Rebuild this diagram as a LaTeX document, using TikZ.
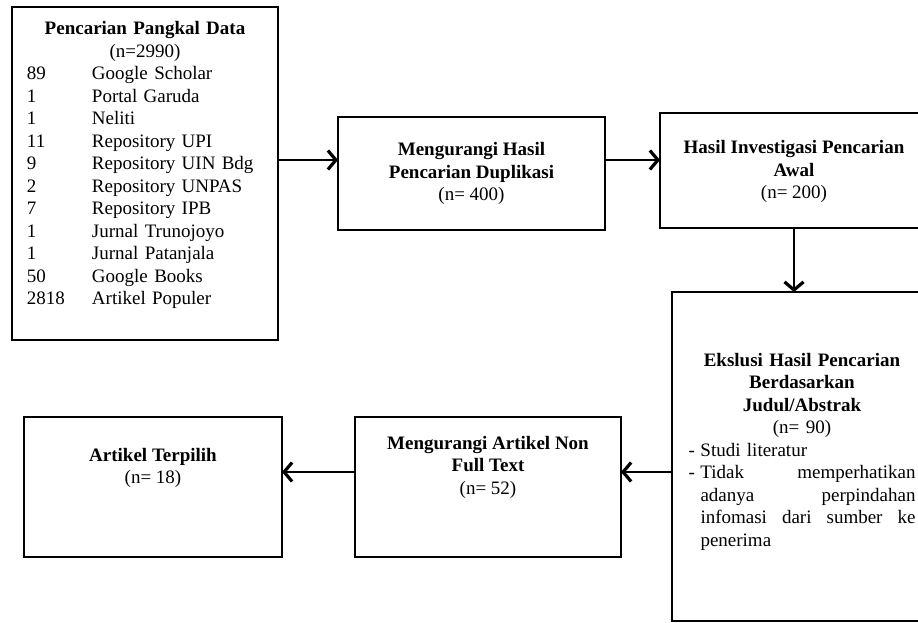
\documentclass[tikz,border=0pt]{standalone}
\usepackage{fontspec}
\setmainfont{Liberation Serif}
\usetikzlibrary{arrows.meta,positioning}
\tikzset{
  kotak/.style={rectangle, draw=black, line width=1.8pt, inner sep=0pt, outer sep=0pt},
  isi/.style={inner sep=0pt, outer sep=0pt, align=center, font=\fontsize{19}{22.5}\selectfont},
  panah/.style={-{Straight Barb[length=8pt,width=19pt,line width=3.2pt]}, line width=2.6pt},
}
\newcommand{\barisrata}[1]{\leavevmode\hbox to 227pt{#1}}

\begin{document}
\begin{tikzpicture}[x=1pt,y=-1pt]
        \useasboundingbox (0,0) rectangle (918,623);
        % kotak
        \node[kotak, minimum width=266pt, minimum height=333pt] (cari) at (145,173.5) {};
        \node[kotak, minimum width=267pt, minimum height=113pt] (dup) at (471.5,173.5) {};
        \node[kotak, minimum width=268pt, minimum height=115pt] (awal) at (794,170.5) {};
        \node[kotak, minimum width=260pt, minimum height=329pt] (eks) at (802,456.5) {};
        \node[kotak, minimum width=266pt, minimum height=140pt] (full) at (488,487) {};
        \node[kotak, minimum width=258pt, minimum height=140pt] (pilih) at (153,487) {};
        % teks
        \node[isi, text width=236pt, below=12.25pt of cari.north] (cariT)
          {\strut\textbf{Pencarian Pangkal Data}\\(n=2990)\\
           \begin{tabular}[t]{@{}p{65pt}@{}p{171pt}@{}}
             89 & Google Scholar\\
             1 & Portal Garuda\\
             1 & Neliti\\
             11 & Repository UPI\\
             9 & Repository UIN Bdg\\
             2 & Repository UNPAS\\
             7 & Repository IPB\\
             1 & Jurnal Trunojoyo\\
             1 & Jurnal Patanjala\\
             50 & Google Books\\
             2818 & Artikel Populer
           \end{tabular}};
        \node[isi, below=22.75pt of dup.north] (dupT)
          {\strut\textbf{Mengurangi Hasil}\\\textbf{Pencarian Duplikasi}\\(n= 400)};
        \node[isi, below=24.75pt of awal.north] (awalT)
          {\strut\textbf{Hasil Investigasi Pencarian}\\\textbf{Awal}\\(n= 200)};
        \node[isi, text width=227pt, below=58.25pt of eks.north] (eksT)
          {\strut\textbf{Ekslusi Hasil Pencarian}\\\textbf{Berdasarkan}\\\textbf{Judul/Abstrak}\\(n= 90)\\
           \barisrata{\hbox to 12pt{-\hfil}Studi literatur\hfil}\\
           \barisrata{\hbox to 12pt{-\hfil}Tidak\hfil memperhatikan}\\
           \barisrata{\hspace*{12pt}adanya\hfil perpindahan}\\
           \barisrata{\hspace*{12pt}infomasi\hfil dari\hfil sumber\hfil ke}\\
           \barisrata{\hspace*{12pt}penerima\hfil}};
        \node[isi, below=16.25pt of full.north] (fullT)
          {\strut\textbf{Mengurangi Artikel Non}\\\textbf{Full Text}\\(n= 52)};
        \node[isi, below=28.25pt of pilih.north] (pilihT)
          {\strut\textbf{Artikel Terpilih}\\(n= 18)};
        % panah
        \draw[panah] ([yshift=13.5pt]cari.east) -- ([yshift=13.5pt]cari.east -| dup.west);
        \draw[panah] ([yshift=13.5pt]dup.east) -- ([yshift=13.5pt]dup.east -| awal.west);
        \draw[panah] (awal.south) -- (awal.south |- eks.north);
        \draw[panah] ([yshift=-15.5pt]eks.west) -- ([yshift=-15.5pt]eks.west -| full.east);
        \draw[panah] ([yshift=15pt]full.west) -- ([yshift=15pt]full.west -| pilih.east);
      \end{tikzpicture}
\end{document}
